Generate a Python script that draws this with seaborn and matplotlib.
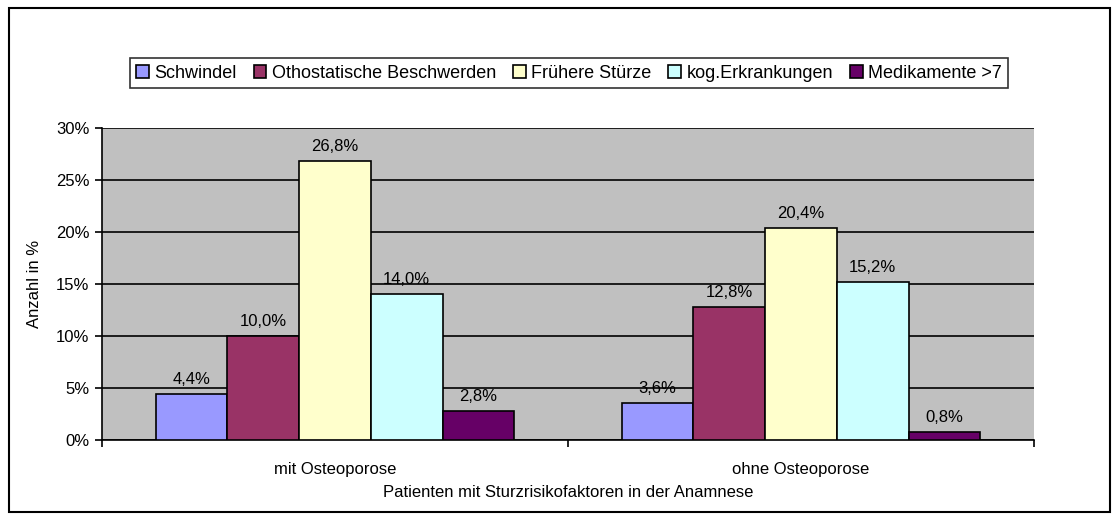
import numpy as np
import pandas as pd
import matplotlib
matplotlib.use("Agg")
import matplotlib.pyplot as plt
from matplotlib.patches import Rectangle
import seaborn as sns

groups = ['mit Osteoporose', 'ohne Osteoporose']
factors = ['Schwindel', 'Othostatische Beschwerden', 'Frühere Stürze',
           'kog.Erkrankungen', 'Medikamente >7']
mit_osteo = [4.4, 10.0, 26.8, 14.0, 2.8]
ohne_osteo = [3.6, 12.8, 20.4, 15.2, 0.8]
colors = ['#9999FF', '#993366', '#FFFFCC', '#CCFFFF', '#660066']

df = pd.DataFrame({
    'Gruppe': np.repeat(groups, len(factors)),
    'Faktor': factors * len(groups),
    'Wert': mit_osteo + ohne_osteo,
})

sns.set_style('white')
plt.rcParams['font.family'] = ['Liberation Sans', 'DejaVu Sans']
plt.rcParams['text.color'] = 'black'
plt.rcParams['xtick.color'] = 'black'
plt.rcParams['ytick.color'] = 'black'
plt.rcParams['axes.labelcolor'] = 'black'

fs = 12

fig = plt.figure(figsize=(11.2, 5.2), dpi=100)
ax = fig.add_axes([102 / 1120, 1 - 440 / 520, 932 / 1120, 312 / 520])
ax.set_facecolor('#C0C0C0')

sns.barplot(data=df, x='Gruppe', y='Wert', hue='Faktor', hue_order=factors,
            palette=colors, saturation=1, width=0.77, edgecolor='black',
            linewidth=1.2, errorbar=None, ax=ax, legend=True, zorder=3)

for cont in ax.containers:
    labels = [f'{v:.1f}%'.replace('.', ',') for v in cont.datavalues]
    ax.bar_label(cont, labels=labels, padding=5, fontsize=fs, zorder=4)

ax.set_ylim(0, 30)
ax.set_xlim(-0.5, 1.5)
ax.set_yticks(range(0, 31, 5))
ax.set_yticklabels([f'{t}%' for t in range(0, 31, 5)], fontsize=fs)
ax.yaxis.grid(True, color='black', linewidth=1.2, zorder=0)
ax.set_axisbelow(True)
ax.tick_params(axis='y', left=True, length=5, width=1.2, color='black', pad=4)
ax.tick_params(axis='x', bottom=False, labelsize=fs, pad=12)
ax.set_xticks([-0.5, 0.5, 1.5], minor=True)
ax.tick_params(axis='x', which='minor', bottom=True, length=5, width=1.2, color='black')

for side in ['top', 'right']:
    ax.spines[side].set_visible(False)
for side in ['left', 'bottom']:
    ax.spines[side].set_color('black')
    ax.spines[side].set_linewidth(1.2)

ax.set_xlabel('Patienten mit Sturzrisikofaktoren in der Anamnese', fontsize=fs, labelpad=6)
ax.set_ylabel('Anzahl in %', fontsize=fs, labelpad=10)

handles, labels = ax.get_legend_handles_labels()
ax.get_legend().remove()
leg = fig.legend(handles, labels, loc='center', bbox_to_anchor=(569 / 1120, 1 - 73 / 520),
                 ncol=5, frameon=True, fancybox=False, fontsize=13,
                 handlelength=0.7, handleheight=0.7, handletextpad=0.3,
                 columnspacing=0.95, borderpad=0.35, borderaxespad=0)
leg.get_frame().set_edgecolor('black')
leg.get_frame().set_linewidth(1.2)

fig.patches.append(Rectangle((9 / 1120, 8 / 520), 1101 / 1120, 504 / 520,
                             transform=fig.transFigure, fill=False,
                             edgecolor='black', linewidth=1.5))

fig.savefig('out.png', dpi=100)
